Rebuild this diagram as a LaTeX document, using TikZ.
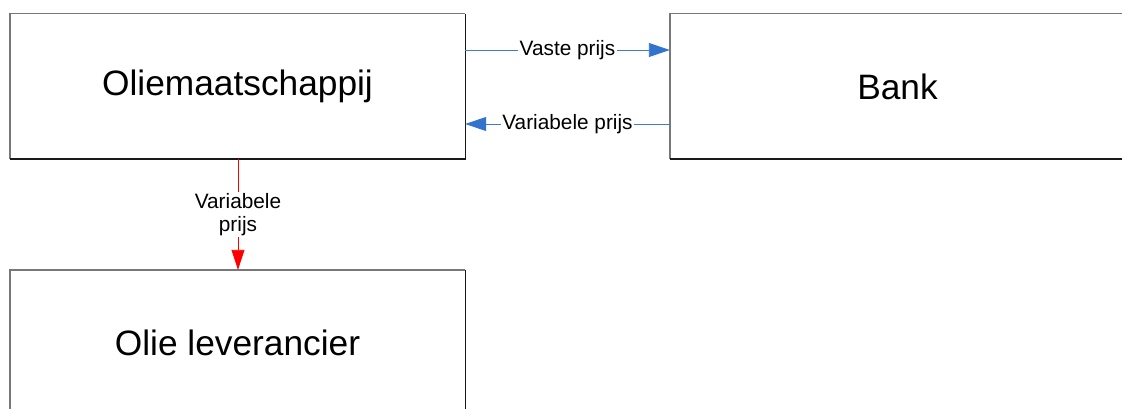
\documentclass[tikz,border=0pt]{standalone}
\usepackage{fontspec}
\setmainfont{Liberation Sans}
\usetikzlibrary{arrows.meta}
\definecolor{edgegray}{RGB}{120,120,120}
\definecolor{edgedark}{RGB}{25,25,25}
\definecolor{flowblue}{RGB}{60,125,210}
\definecolor{headblue}{RGB}{50,115,205}
\tikzset{
  party/.style={rectangle, draw=none, minimum width=455pt, minimum height=145pt,
    inner sep=0pt, font=\fontsize{35.3}{42}\selectfont},
  flowlabel/.style={fill=white, inner sep=1.5pt, font=\fontsize{20.8}{23}\selectfont, align=center},
  blueflow/.style={draw=flowblue, line width=0.9pt,
    -{Triangle[length=21pt,width=14pt,fill=headblue,color=headblue]}},
  redflow/.style={draw=red, line width=0.9pt,
    -{Triangle[length=20pt,width=13pt,fill=red,color=red]}},
}
% gray top/left edges, dark bottom/right edges
\newcommand{\partyframe}[1]{%
  \draw[edgegray, line width=1.4pt] (#1.south west) -- (#1.north west) -- (#1.north east);
  \draw[edgedark, line width=1.4pt] (#1.north east) -- (#1.south east) -- (#1.south west);
}
\begin{document}
\begin{tikzpicture}[x=1pt, y=-1pt]
  \useasboundingbox (0,0) rectangle (1122,409);
  \begin{scope}
    \clip (0,0) rectangle (1122,409);
    \node[party] (olie) at (237.5,86.5) {Oliemaatschappij};
    \node[party] (bank) at (897.5,86.5) {Bank};
    \node[party] (lev)  at (237.5,342.5) {Olie leverancier};
    \partyframe{olie}
    \partyframe{bank}
    \partyframe{lev}

    \draw[blueflow] ([yshift=36.5pt]olie.east) -- node[flowlabel] (vaste) {Vaste prijs} ([yshift=36.5pt]bank.west);
    \draw[blueflow] ([yshift=-37.5pt]bank.west) -- node[flowlabel] (varb) {Variabele prijs} ([yshift=-37.5pt]olie.east);
    \draw[redflow] ([xshift=0.5pt]olie.south) -- node[flowlabel] (varl) {Variabele\\prijs} ([xshift=0.5pt]lev.north);
  \end{scope}
\end{tikzpicture}
\end{document}
